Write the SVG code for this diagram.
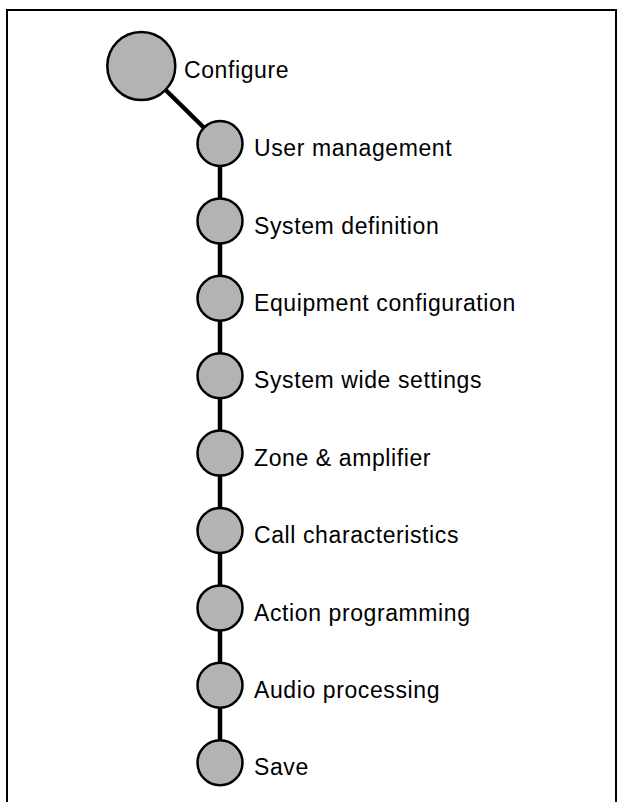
<svg xmlns="http://www.w3.org/2000/svg" width="618" height="802" viewBox="0 0 618 802">
<style>
.node circle{fill:#b3b3b3;stroke:#000;stroke-width:2.5}
.node text{font-family:"Liberation Sans",Arial,sans-serif;font-size:23px;letter-spacing:0.6px;fill:#000}
.conn line{stroke:#000;stroke-width:4.5}
</style>
<rect x="7" y="10" width="609" height="800" fill="#fff" stroke="#000" stroke-width="2"/>
<g id="connectors" class="conn">
<line x1="141.3" y1="66" x2="220" y2="143.5"/>
<line x1="220" y1="143.5" x2="220" y2="762.7"/>
</g>
<g id="configure" class="node"><circle cx="141.3" cy="66" r="34"/><text x="184" y="77.5">Configure</text></g>
<g id="user-management" class="node"><circle cx="220" cy="143.5" r="22.5"/><text x="254" y="156.2">User management</text></g>
<g id="system-definition" class="node"><circle cx="220" cy="220.9" r="22.5"/><text x="254" y="233.6">System definition</text></g>
<g id="equipment-configuration" class="node"><circle cx="220" cy="298.3" r="22.5"/><text x="254" y="311">Equipment configuration</text></g>
<g id="system-wide-settings" class="node"><circle cx="220" cy="375.7" r="22.5"/><text x="254" y="388.4">System wide settings</text></g>
<g id="zone-amplifier" class="node"><circle cx="220" cy="453.1" r="22.5"/><text x="254" y="465.8">Zone &amp; amplifier</text></g>
<g id="call-characteristics" class="node"><circle cx="220" cy="530.5" r="22.5"/><text x="254" y="543.2">Call characteristics</text></g>
<g id="action-programming" class="node"><circle cx="220" cy="607.9" r="22.5"/><text x="254" y="620.6">Action programming</text></g>
<g id="audio-processing" class="node"><circle cx="220" cy="685.3" r="22.5"/><text x="254" y="698">Audio processing</text></g>
<g id="save" class="node"><circle cx="220" cy="762.7" r="22.5"/><text x="254" y="775.4">Save</text></g>
</svg>
